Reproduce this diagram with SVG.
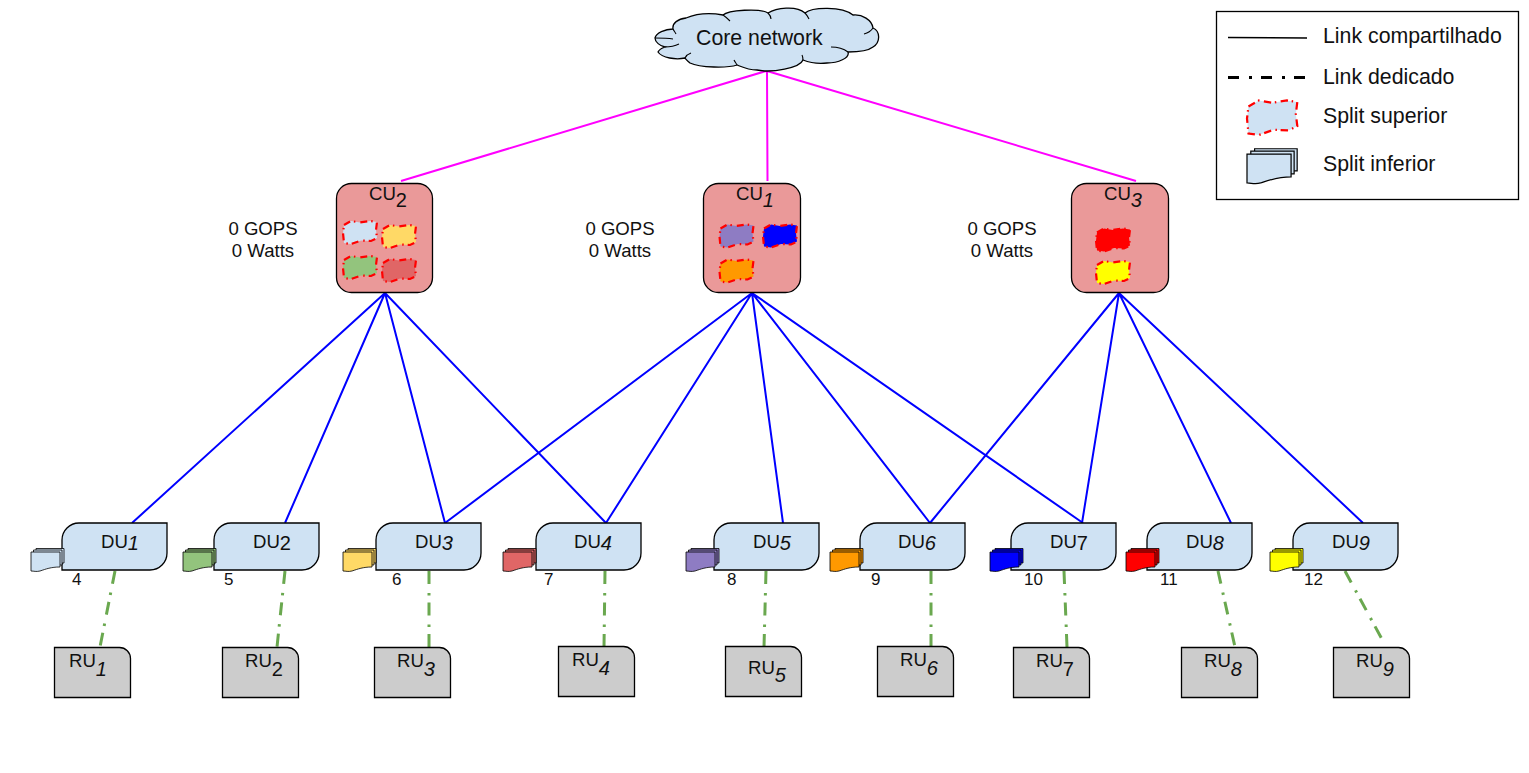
<svg xmlns="http://www.w3.org/2000/svg" width="1529" height="773" viewBox="0 0 1529 773">
<style>
text{font-family:"Liberation Sans",Arial,sans-serif;fill:#111}
.t{font-size:18.6px}
.l{font-size:21.3px}
.n{font-size:17px}
.s{font-size:20px;font-style:italic}
.u{font-size:20px}
.core{stroke:#f0f;stroke-width:2;fill:none}
.blue{stroke:#00f;stroke-width:2;fill:none}
.ded{stroke:#6aa84f;stroke-width:3;fill:none;stroke-dasharray:13 9 2.5 7}
.cu{fill:#ea9999;stroke:#000;stroke-width:1.3}
.du{fill:#cfe2f3;stroke:#000;stroke-width:1.3}
.ru{fill:#ccc;stroke:#000;stroke-width:1.3}
.sheet{stroke:#000;stroke-width:.8}
.blob{stroke:#f00;stroke-width:2.2;stroke-dasharray:7 4 1.5 5}
</style>
<defs>
<path id="du" d="M17 0H105V30A17 17 0 0 1 88 47H0V17A17 17 0 0 1 17 0Z"/>
<path id="ru" d="M0 0H65A11 11 0 0 1 76 11V50H0Z"/>
<g id="stack" class="sheet">
<path d="M5 0.500H33V15H5Z"/><path d="M2.500 2H31V17H2.500Z"/><path d="M0 4H29V19C20 19 15 21 9 23C5 24 3 23 0 23Z"/>
</g>
<path id="blob" d="M1 5L8 1L17 2.500L27 1L34 2L33 10L34 18L28 21L18 20.500L8 24L1 23L0 13Z"/>
</defs>
<g id="connectors">
<path class="core" d="M766 71L401 181M767 71L767.500 181M767 71L1136 181"/>
<path class="blue" d="M385 293L132 523M385 293L285 523M385 293L445 523M385 293L606 523"/>
<path class="blue" d="M752 293L445 523M752 293L606 523M752 293L783 523M752 293L930 523M752 293L1083 523"/>
<path class="blue" d="M1119 293L930 523M1119 293L1082 523M1119 293L1231 523M1119 293L1363 523"/>
<path class="ded" d="M115 571L100 647M285 571L277 647M429 571L429 647M605 571L604 647M766 571L764 647M931 571L931 647M1064 571L1067 647M1218 571L1235 647M1345 571L1384 643"/>
</g>
<g id="core"><path d="M655 38C656 33 665 29 673 29C672 23 678 19 686 18C698 13 712 13 723 15C728 10 760 8 768 13C776 8 796 5 805 13C812 7 842 6 853 15C862 14 872 20 873 28C880 31 881 42 873 47C868 51 858 52 848 52C850 58 838 63 827 63C818 64 808 62 803 60C800 68 772 73 757 70C748 70 742 67 737 65C728 68 700 68 690 63C688 61 686 60 685 58C676 60 662 58 658 52C659 50 662 48 665 47C660 46 655 42 655 38Z" fill="#cfe2f3" stroke="#000" stroke-width="1.300"/><path d="M655 38C660 38 667 38 673 39M673 29C674 31 675 32 676 34M723 15C726 17 728 19 730 21M768 13C770 15 771 17 771 19M805 13C807 15 808 17 809 19M873 28C871 31 868 33 864 34M848 52C844 49 838 47 831 47M803 60C803 58 803 57 802 55M737 65C736 63 735 62 734 60M685 58C686 56 688 54 691 53M665 47C670 47 675 46 679 44" fill="none" stroke="#000" stroke-width="1.100"/><text x="696" y="45" class="l">Core network</text></g>
<g id="legend">
<rect x="1216.500" y="11.500" width="302" height="188" fill="#fff" stroke="#000" stroke-width="1.300"/>
<path d="M1228 37.500L1307 38" stroke="#000" stroke-width="1.600" fill="none"/>
<path d="M1228 77.500H1306" stroke="#000" stroke-width="3" fill="none" stroke-dasharray="11 10 3 9"/>
<use href="#blob" transform="translate(1247 99) scale(1.480 1.500)" fill="#cfe2f3" class="blob" style="stroke-width:1.500;stroke-dasharray:5 2.500 1 3"/>
<use href="#stack" transform="translate(1247 148) scale(1.520)" fill="#cfe2f3"/>
<text x="1323" y="43" class="l">Link compartilhado</text>
<text x="1323" y="84" class="l">Link dedicado</text>
<text x="1323" y="123" class="l">Split superior</text>
<text x="1323" y="171" class="l">Split inferior</text>
</g>
<g id="cu2"><rect class="cu" x="336.500" y="183.500" width="96" height="109" rx="15"/><text x="369" y="200" class="t">CU<tspan class="u" dy="7">2</tspan></text><use href="#blob" x="343" y="220" fill="#cfe2f3" class="blob"/><use href="#blob" x="382" y="224" fill="#ffd966" class="blob"/><use href="#blob" x="343" y="255" fill="#93c47d" class="blob"/><use href="#blob" x="382" y="258" fill="#e06666" class="blob"/><text x="263" y="235" class="t" text-anchor="middle">0 GOPS</text><text x="263" y="257" class="t" text-anchor="middle">0 Watts</text></g>
<g id="cu1"><rect class="cu" x="703.500" y="183.500" width="97" height="109" rx="15"/><text x="736" y="200" class="t">CU<tspan class="s" dy="7">1</tspan></text><use href="#blob" x="719.500" y="223.500" fill="#8e7cc3" class="blob"/><use href="#blob" x="763" y="223.500" fill="#00f" class="blob"/><use href="#blob" x="719.500" y="258.500" fill="#f90" class="blob"/><text x="620" y="235" class="t" text-anchor="middle">0 GOPS</text><text x="620" y="257" class="t" text-anchor="middle">0 Watts</text></g>
<g id="cu3"><rect class="cu" x="1071.500" y="183.500" width="97" height="109" rx="15"/><text x="1104" y="200" class="t">CU<tspan class="s" dy="7">3</tspan></text><use href="#blob" x="1096" y="227.500" fill="#f00" class="blob"/><use href="#blob" x="1096" y="260" fill="#ff0" class="blob"/><text x="1002" y="235" class="t" text-anchor="middle">0 GOPS</text><text x="1002" y="257" class="t" text-anchor="middle">0 Watts</text></g>
<g id="du1"><use href="#du" x="62" y="523" class="du"/><use href="#stack" x="31" y="548" fill="#cfe2f3"/><text x="101" y="548" class="t">DU<tspan class="s" dy="2">1</tspan></text><text x="72" y="585" class="n">4</text></g>
<g id="du2"><use href="#du" x="214" y="523" class="du"/><use href="#stack" x="183" y="548" fill="#93c47d"/><text x="253" y="548" class="t">DU<tspan class="u" dy="2">2</tspan></text><text x="224" y="585" class="n">5</text></g>
<g id="du3"><use href="#du" x="376" y="523" class="du"/><use href="#stack" x="343" y="548" fill="#ffd966"/><text x="415" y="548" class="t">DU<tspan class="s" dy="2">3</tspan></text><text x="392" y="585" class="n">6</text></g>
<g id="du4"><use href="#du" x="536" y="523" class="du"/><use href="#stack" x="503" y="548" fill="#e06666"/><text x="574" y="548" class="t">DU<tspan class="s" dy="2">4</tspan></text><text x="544" y="585" class="n">7</text></g>
<g id="du5"><use href="#du" x="714" y="523" class="du"/><use href="#stack" x="686" y="548" fill="#8e7cc3"/><text x="753" y="548" class="t">DU<tspan class="s" dy="2">5</tspan></text><text x="727" y="585" class="n">8</text></g>
<g id="du6"><use href="#du" x="860" y="523" class="du"/><use href="#stack" x="830" y="548" fill="#f90"/><text x="898" y="548" class="t">DU<tspan class="s" dy="2">6</tspan></text><text x="871" y="585" class="n">9</text></g>
<g id="du7"><use href="#du" x="1011" y="523" class="du"/><use href="#stack" x="990" y="548" fill="#00f"/><text x="1050" y="548" class="t">DU<tspan class="u" dy="2">7</tspan></text><text x="1024" y="585" class="n">10</text></g>
<g id="du8"><use href="#du" x="1147" y="523" class="du"/><use href="#stack" x="1126" y="548" fill="#f00"/><text x="1186" y="548" class="t">DU<tspan class="s" dy="2">8</tspan></text><text x="1160" y="585" class="n">11</text></g>
<g id="du9"><use href="#du" x="1293" y="523" class="du"/><use href="#stack" x="1270" y="548" fill="#ff0"/><text x="1332" y="548" class="t">DU<tspan class="s" dy="2">9</tspan></text><text x="1304" y="585" class="n">12</text></g>
<g id="ru1"><use href="#ru" x="54.500" y="647.500" class="ru"/><text x="69" y="667" class="t">RU<tspan class="s" dy="9">1</tspan></text></g>
<g id="ru2"><use href="#ru" x="222.500" y="647.500" class="ru"/><text x="245" y="667" class="t">RU<tspan class="u" dy="9">2</tspan></text></g>
<g id="ru3"><use href="#ru" x="374.500" y="647.500" class="ru"/><text x="397" y="667" class="t">RU<tspan class="s" dy="9">3</tspan></text></g>
<g id="ru4"><use href="#ru" x="558.500" y="647.500" class="ru" transform="translate(0 -1)"/><text x="572" y="666" class="t">RU<tspan class="s" dy="9">4</tspan></text></g>
<g id="ru5"><use href="#ru" x="725.500" y="647.500" class="ru" transform="translate(0 -1)"/><text x="748" y="674" class="t">RU<tspan class="s" dy="8">5</tspan></text></g>
<g id="ru6"><use href="#ru" x="877.500" y="647.500" class="ru" transform="translate(0 -1)"/><text x="900" y="666" class="t">RU<tspan class="s" dy="9">6</tspan></text></g>
<g id="ru7"><use href="#ru" x="1013.500" y="647.500" class="ru"/><text x="1036" y="667" class="t">RU<tspan class="u" dy="9">7</tspan></text></g>
<g id="ru8"><use href="#ru" x="1181.500" y="647.500" class="ru"/><text x="1204" y="667" class="t">RU<tspan class="s" dy="9">8</tspan></text></g>
<g id="ru9"><use href="#ru" x="1333.500" y="647.500" class="ru"/><text x="1356" y="667" class="t">RU<tspan class="s" dy="9">9</tspan></text></g>
</svg>
